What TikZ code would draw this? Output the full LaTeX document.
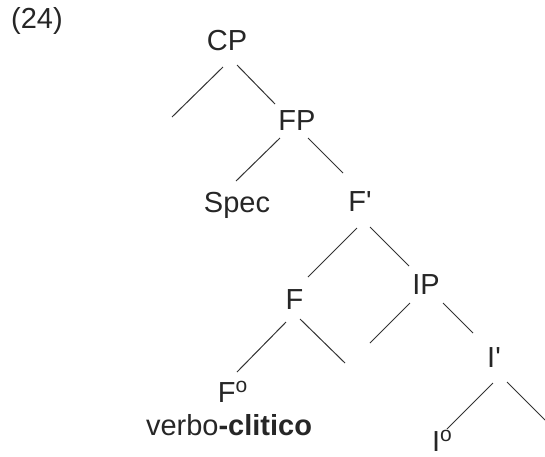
\documentclass[tikz,border=0pt]{standalone}
\usepackage{fontspec}
\setmainfont{Liberation Sans}
% small raised "o" used for the zero-level heads (F°, I°)
\newcommand\headmark{\raisebox{10pt}{\fontsize{21}{21}\selectfont o}}
\begin{document}
\begin{tikzpicture}[x=1pt,y=-1pt,
  lbl/.style={anchor=base,inner sep=0pt,font=\fontsize{29}{34}\selectfont,text=black!85},
  branch/.style={line width=1pt,draw=black!80}]
\useasboundingbox (0,0) rectangle (545,456);

% labels
\node[lbl] (num)   at (37,28)    {(24)};
\node[lbl] (cp)    at (227,50)   {CP};
\node[lbl] (fp)    at (297,130)  {FP};
\node[lbl] (spec)  at (237,212)  {Spec};
\node[lbl] (fbar)  at (360,211)  {F\textquotesingle};
\node[lbl] (f)     at (294.5,309){F};
\node[lbl] (ip)    at (426,294)  {IP};
\node[lbl] (fzero) at (232.5,402){F\headmark};
\node[lbl] (verb)  at (229,435)  {verbo\textbf{-clitico}};
\node[lbl] (ibar)  at (494,367)  {I\textquotesingle};
\node[lbl] (izero) at (442,451)  {I\headmark};

% loose ends of the empty branches
\coordinate (cpL) at (172,117);
\coordinate (fR)  at (345,363);
\coordinate (ipL) at (370,343);
\coordinate (iR)  at (545,420);

% branches
\draw[branch] ([shift={(-4,17)}]cp.base) -- (cpL);
\draw[branch] ([shift={(10,15)}]cp.base) -- ([shift={(-22,-26)}]fp.base);
\draw[branch] ([shift={(-17,8)}]fp.base) -- ([shift={(-1,-31)}]spec.base);
\draw[branch] ([shift={(11,8)}]fp.base) -- ([shift={(-17,-38)}]fbar.base);
\draw[branch] ([shift={(-3,17)}]fbar.base) -- ([shift={(13.5,-32)}]f.base);
\draw[branch] ([shift={(10,16)}]fbar.base) -- ([shift={(-17,-28)}]ip.base);
\draw[branch] ([shift={(-8.5,13)}]f.base) -- ([shift={(4.5,-30)}]fzero.base);
\draw[branch] ([shift={(5.5,10)}]f.base) -- (fR);
\draw[branch] ([shift={(-16,9)}]ip.base) -- (ipL);
\draw[branch] ([shift={(17,9)}]ip.base) -- ([shift={(-21,-34)}]ibar.base);
\draw[branch] ([shift={(-1,16)}]ibar.base) -- ([shift={(5,-22)}]izero.base);
\draw[branch] ([shift={(13,15)}]ibar.base) -- (iR);
\end{tikzpicture}
\end{document}
